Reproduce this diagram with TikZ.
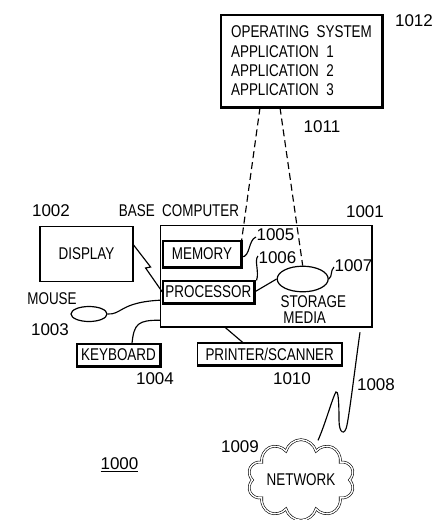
\documentclass[tikz,border=0pt]{standalone}
\usepackage{fontspec}
\setmainfont[FakeStretch=0.79]{Liberation Sans}
\newfontfamily\digfont{Liberation Sans}
\usetikzlibrary{shapes.geometric,shapes.symbols}
\begin{document}
\begin{tikzpicture}[x=1pt,y=-1pt, font=\fontsize{17}{19.3}\selectfont, line width=1.15pt,
  box/.style={draw, line width=1.2pt, inner sep=0pt},
  lbl/.style={inner sep=0pt},
  num/.style={inner sep=0pt, font=\digfont\fontsize{17}{19}\selectfont},
  shade/.style={line width=2.2pt},
  dashlink/.style={dash pattern=on 7pt off 4pt}]
\useasboundingbox (0,0) rectangle (437,520);
% boxes
\node[box, minimum width=161, minimum height=92, align=left] (top) at (301.5,61)
  {OPERATING\ \ SYSTEM\\APPLICATION\ \ 1\\APPLICATION\ \ 2\\APPLICATION\ \ 3};
\node[box, minimum width=211, minimum height=101] (base) at (266.2,276.2) {};
\node[box, minimum width=78, minimum height=26] (memory) at (202,254) {MEMORY};
\node[box, minimum width=91, minimum height=22] (proc) at (208.4,292) {PROCESSOR};
\node[box, minimum width=93, minimum height=55] (display) at (86.5,254) {DISPLAY};
\node[box, minimum width=83, minimum height=22] (kb) at (118.5,355) {KEYBOARD};
\node[box, minimum width=144, minimum height=22] (printer) at (269.7,354) {PRINTER/SCANNER};
\node[draw, ellipse, line width=1.2pt, minimum width=51, minimum height=25.6, inner sep=0pt] (stor) at (302.7,279) {};
\node[draw, ellipse, line width=1.2pt, minimum width=36, minimum height=15, inner sep=0pt] (mouse) at (89,314) {};
\node[cloud, cloud puffs=10, aspect=1.6, draw, line width=0.6pt, double=white, double distance=1.4pt,
  minimum width=102, minimum height=64, inner sep=0pt] (net) at (301,480) {NETWORK};
% shading edges
\foreach \n in {top,base,memory,proc,kb,printer}
  \draw[shade] (\n.north east) -- (\n.south east) -- (\n.south west);
% labels
\node[num] (l1012) at (414,21) {1012};
\node[num] (l1011) at (322,127) {1011};
\node[lbl] (lbase) at (179,211) {BASE\ \ COMPUTER};
\node[num] (l1001) at (365,212) {1001};
\node[num] (l1002) at (51,211) {1002};
\node[lbl] (lmouse) at (52,299) {MOUSE};
\node[num] (l1003) at (50,330) {1003};
\node[num] (l1004) at (155,379) {1004};
\node[num] (l1010) at (292,379) {1010};
\node[num] (l1008) at (376,385) {1008};
\node[num] (l1009) at (240,447) {1009};
\node[num] (l1000) at (119.5,465) {\underline{1000}};
\node[num, anchor=west] (l1005) at (256,235) {1005};
\node[num, anchor=west] (l1006) at (258,258) {1006};
\node[num, anchor=west] (l1007) at (334,266) {1007};
\node[lbl, anchor=north west, align=left, font=\fontsize{17}{16}\selectfont] (lstor) at (280,295) {STORAGE\\\,MEDIA};
% connectors
\draw[dashlink] ([xshift=-41.5pt]top.south) -- (memory.north east);
\draw[dashlink] ([xshift=-21.5pt]top.south) -- (stor.north);
\draw ([yshift=9pt]display.east) -- ++(17,22) -- ++(-5,1) -- (proc.west);
\draw (mouse.east) .. controls +(14,1) and +(-40,2) .. ([yshift=-24pt]base.west);
\draw ([xshift=13.5pt]kb.north) .. controls +(2,-20) and +(-22,0) .. ([yshift=-44pt]base.west);
\draw ([xshift=-27pt]printer.north) -- ([xshift=-41.2pt]base.south);
\draw (proc.east) -- (stor.west);
\draw ([yshift=-3pt]memory.east) .. controls +(9,0) and +(-8,3) .. ([yshift=-2pt]l1005.west);
\draw ([xshift=2pt]proc.north east) .. controls +(3,-8) and +(-4,4) .. ([yshift=2pt]l1006.west);
\draw (stor.east) .. controls +(4,-3) and +(-4,4) .. ([yshift=-1pt]l1007.west);
\draw ([xshift=93.8pt,yshift=-5pt]base.south) .. controls (356,360) and (350,410) .. (347,425)
  .. controls (345,436) and (339,434) .. (339,420) .. controls (339,400) and (338,390) .. (336,392)
  .. controls (333,396) and (325,425) .. ([xshift=17pt,yshift=-1pt]net.north);
\end{tikzpicture}
\end{document}
